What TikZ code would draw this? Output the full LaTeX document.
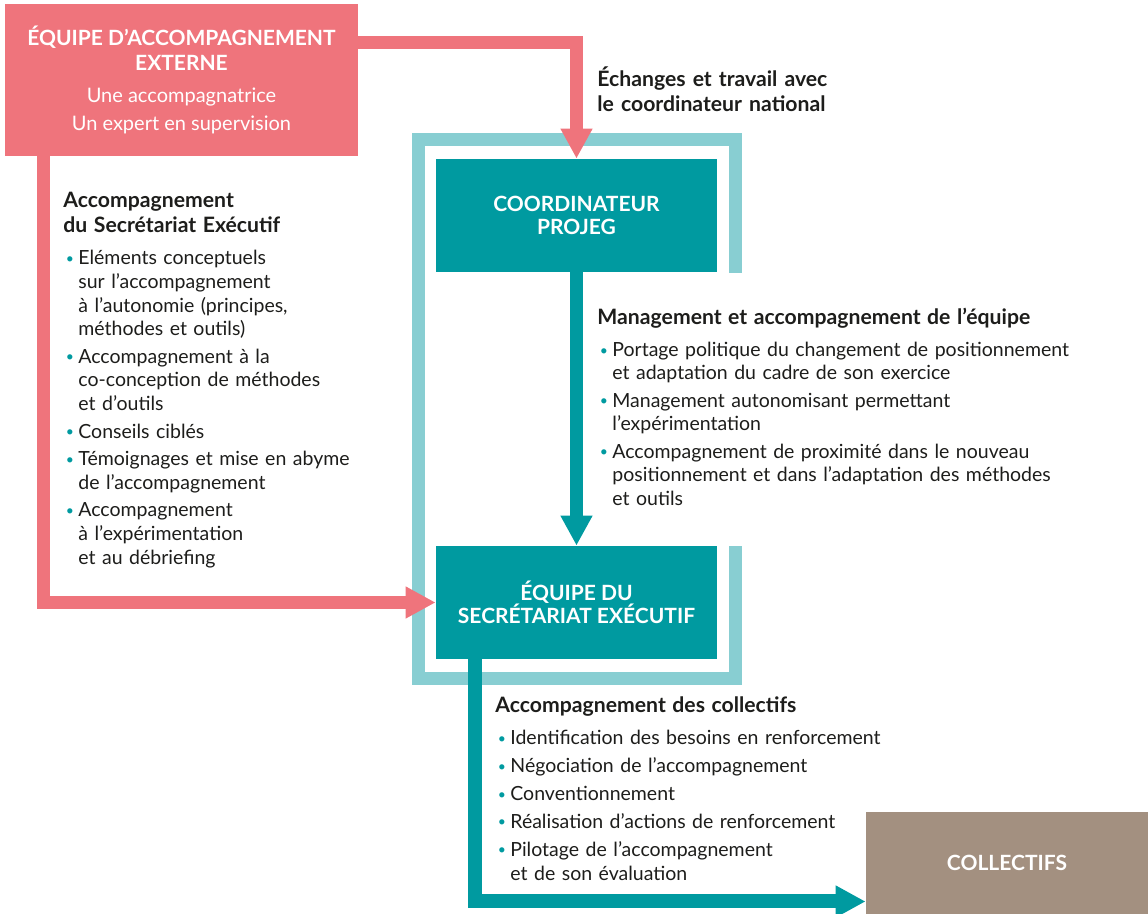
\documentclass[tikz,border=0pt]{standalone}
\usepackage{fontspec}
\setmainfont{Lato}
\usetikzlibrary{arrows.meta}

\definecolor{rose}{HTML}{EF747C}
\definecolor{turquoise}{HTML}{009AA0}
\definecolor{cadre}{HTML}{88CED2}
\definecolor{taupe}{HTML}{A39080}
\definecolor{texte}{HTML}{1D1D1B}

\newcommand{\titre}[1]{{\fontsize{10.6}{12.5}\selectfont\bfseries #1\par}\vskip2.1pt}
\newcommand{\puce}[1]{\par\vskip1.9pt\leftskip=7.5pt\noindent\llap{\textcolor{turquoise}{\raisebox{0.7pt}{\fontsize{7}{7}\selectfont\textbullet}}\hspace{2.2pt}}#1\par}

\begin{document}
\begin{tikzpicture}[x=0.5pt,y=-0.5pt,
  boite/.style={fill=turquoise, text=white, align=center, inner sep=0pt,
    font=\bfseries\fontsize{10.5}{11.5}\selectfont,
    minimum width=140.5pt, minimum height=56.5pt},
  bloc/.style={anchor=base west, inner sep=0pt, text width=260pt, align=left,
    text=texte, font=\fontsize{9.75}{12}\selectfont},
  fleche/.style={line width=6.5pt, -{Triangle[width=15pt,length=15pt]}}]
  \useasboundingbox (0,0) rectangle (1148,914);

  % cadre du secretariat
  \draw[cadre, line width=6.5pt] (735.5,273) -- (735.5,140) -- (418.5,140)
    -- (418.5,678.5) -- (735.5,678.5) -- (735.5,546);

  \node[boite, fill=rose, minimum width=176.5pt, minimum height=76pt,
        font=\bfseries\fontsize{10.5}{12.5}\selectfont] (equipeExt) at (181.5,80)
    {ÉQUIPE D’ACCOMPAGNEMENT\\EXTERNE\\[3.5pt]
     \normalfont\fontsize{10}{12.5}\selectfont Une accompagnatrice\\[1.5pt]
     \normalfont\fontsize{10}{12.5}\selectfont Un expert en supervision};
  \node[boite] (coord) at (576.5,215.5) {COORDINATEUR\\PROJEG};
  \node[boite] (secExec) at (576.5,602.5) {ÉQUIPE DU\\SECRÉTARIAT EXÉCUTIF};
  \node[boite, fill=taupe, minimum width=141pt, minimum height=51pt] (collectifs) at (1007,863) {COLLECTIFS};

  \draw[fleche, rose] ([yshift=18.75pt]equipeExt.east) -| (coord.north);
  \draw[fleche, rose] ([xshift=19.25pt]equipeExt.south west) |- (secExec.west);
  \draw[fleche, turquoise] (coord) -- (secExec);
  \draw[fleche, turquoise, line width=7pt] ([xshift=-50.75pt]secExec.south) |- ([yshift=-19.25pt]collectifs.west);

  \node[bloc, font=\bfseries\fontsize{10.6}{12.5}\selectfont] (txtEchanges) at (597,87)
    {Échanges et travail avec\\le coordinateur national};

  \node[bloc, font=\fontsize{9.75}{11.85}\selectfont] (txtSecExec) at (63,208)
    {\titre{Accompagnement\\du Secrétariat Exécutif}
     \puce{Eléments conceptuels\\sur l’accompagnement\\à l’autonomie (principes,\\méthodes et outils)}
     \puce{Accompagnement à la\\co-conception de méthodes\\et d’outils}
     \puce{Conseils ciblés}
     \puce{Témoignages et mise en abyme\\de l’accompagnement}
     \puce{Accompagnement\\à l’expérimentation\\et au débriefing}};

  \node[bloc, font=\fontsize{9.75}{11.75}\selectfont] (txtEquipe) at (597,325)
    {\titre{Management et accompagnement de l’équipe}
     \puce{Portage politique du changement de positionnement\\et adaptation du cadre de son exercice}
     \puce{Management autonomisant permettant\\l’expérimentation}
     \puce{Accompagnement de proximité dans le nouveau\\positionnement et dans l’adaptation des méthodes\\et outils}};

  \node[bloc] (txtCollectifs) at (495,713)
    {\titre{Accompagnement des collectifs}
     \puce{Identification des besoins en renforcement}
     \puce{Négociation de l’accompagnement}
     \puce{Conventionnement}
     \puce{Réalisation d’actions de renforcement}
     \puce{Pilotage de l’accompagnement\\et de son évaluation}};
\end{tikzpicture}
\end{document}
